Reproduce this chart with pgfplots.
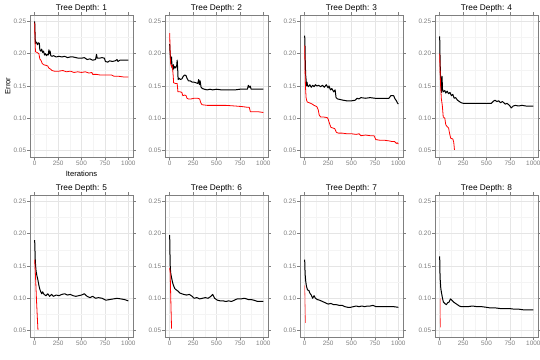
\documentclass[border=0pt]{standalone}
\usepackage{fontspec}
\setmainfont{Liberation Sans}
\usepackage{pgfplots}
\pgfplotsset{compat=1.18}
\definecolor{g50}{RGB}{127,127,127}
\definecolor{g90}{RGB}{229,229,229}
\definecolor{g97}{RGB}{244,244,244}
\pgfplotsset{every axis title shift=0pt}
\pgfplotsset{panel/.style={
  scale only axis, width=103bp, height=142bp,
  anchor=south west,
  xmin=-50, xmax=1050, ymin=0.04, ymax=0.26,
  xtick={0,250,500,750,1000}, ytick={0.05,0.10,0.15,0.20,0.25},
  minor xtick={125,375,625,875}, minor ytick={0.075,0.125,0.175,0.225},
  grid=both,
  major grid style={g90, line width=0.5bp},
  minor grid style={g97, line width=0.4bp},
  axis line style={g50, line width=0.5bp},
  tick style={g50, line width=0.5bp},
  tick align=outside, major tick length=2.7bp, minor tick length=0pt,
  ticklabel style={font=\fontsize{6.4bp}{7bp}\selectfont, text=g50},
  xticklabel style={inner sep=1bp},
  yticklabel style={inner sep=1bp, /pgf/number format/.cd, fixed, fixed zerofill, precision=2},
  /pgf/number format/1000 sep={},
  /pgf/number format/assume math mode=true,
  title style={at={(axis description cs:0.5,1.035)}, anchor=base, inner sep=0pt, font=\fontsize{8.3bp}{10bp}\selectfont},
  xlabel style={at={(axis description cs:0.5,-0.134)}, anchor=base, inner sep=0pt, font=\fontsize{7.6bp}{9bp}\selectfont},
  ylabel style={at={(axis description cs:-0.19,0.5)}, anchor=base, inner sep=0pt, font=\fontsize{7.6bp}{9bp}\selectfont},
  blk/.style={black, line width=1bp, line join=round},
  rd/.style={red, line width=0.8bp, line join=round},
}}
\begin{document}
\begin{tikzpicture}
\useasboundingbox (0,0) rectangle (540bp,360bp);
% ---------- Row 1 ----------
\begin{axis}[panel, at={(30bp,203bp)}, title={Tree Depth: 1}, xlabel={Iterations}, ylabel={Error}]
\addplot[blk] coordinates {(0,0.250)(3,0.235)(6,0.222)(10,0.216)(20,0.218)(30,0.214)(40,0.217)(50,0.216)(55,0.206)(65,0.204)(75,0.207)(85,0.202)(95,0.204)(105,0.198)(115,0.200)(125,0.197)(135,0.199)(145,0.198)(152,0.206)(158,0.200)(165,0.204)(172,0.197)(185,0.196)(200,0.197)(230,0.195)(260,0.196)(290,0.195)(320,0.196)(350,0.194)(380,0.195)(410,0.195)(440,0.194)(470,0.193)(500,0.193)(530,0.194)(560,0.191)(590,0.192)(620,0.190)(650,0.191)(660,0.199)(668,0.193)(690,0.193)(720,0.194)(745,0.193)(755,0.188)(780,0.187)(800,0.189)(830,0.188)(860,0.189)(880,0.191)(890,0.188)(910,0.190)(940,0.190)(970,0.190)(1000,0.190)};
\addplot[rd] coordinates {(0,0.248)(3,0.225)(6,0.210)(10,0.203)(25,0.202)(45,0.200)(55,0.192)(70,0.189)(80,0.185)(95,0.183)(120,0.182)(140,0.181)(150,0.178)(170,0.176)(185,0.174)(210,0.173)(260,0.173)(300,0.174)(340,0.172)(380,0.173)(420,0.171)(460,0.172)(500,0.171)(540,0.172)(580,0.170)(610,0.171)(620,0.168)(660,0.168)(700,0.167)(740,0.167)(780,0.167)(820,0.167)(850,0.165)(900,0.165)(950,0.164)(1000,0.164)};
\end{axis}
\begin{axis}[panel, at={(165bp,203bp)}, title={Tree Depth: 2}]
\addplot[blk] coordinates {(0,0.215)(5,0.200)(10,0.192)(15,0.185)(20,0.195)(25,0.178)(30,0.182)(35,0.175)(40,0.183)(45,0.177)(55,0.180)(65,0.178)(75,0.182)(80,0.190)(85,0.178)(90,0.160)(100,0.162)(115,0.160)(130,0.161)(145,0.165)(160,0.167)(175,0.166)(185,0.162)(200,0.158)(220,0.158)(240,0.156)(260,0.156)(280,0.155)(300,0.154)(310,0.160)(318,0.152)(325,0.158)(335,0.148)(350,0.146)(370,0.145)(400,0.144)(430,0.145)(460,0.144)(500,0.145)(550,0.144)(600,0.144)(650,0.144)(700,0.144)(750,0.145)(800,0.145)(830,0.145)(840,0.151)(850,0.148)(860,0.150)(870,0.145)(900,0.145)(950,0.145)(1000,0.145)};
\addplot[rd] coordinates {(0,0.232)(3,0.215)(6,0.195)(10,0.185)(15,0.182)(20,0.180)(25,0.182)(30,0.179)(38,0.165)(42,0.155)(60,0.154)(80,0.154)(88,0.141)(110,0.141)(130,0.140)(140,0.135)(160,0.136)(175,0.135)(185,0.131)(200,0.130)(230,0.130)(260,0.131)(300,0.131)(320,0.130)(332,0.124)(345,0.121)(400,0.120)(500,0.120)(600,0.120)(700,0.119)(780,0.118)(830,0.117)(850,0.117)(862,0.110)(900,0.110)(950,0.110)(1000,0.109)};
\end{axis}
\begin{axis}[panel, at={(300bp,203bp)}, title={Tree Depth: 3}]
\addplot[blk] coordinates {(0,0.228)(3,0.215)(6,0.190)(10,0.168)(15,0.160)(20,0.150)(25,0.156)(30,0.151)(40,0.149)(55,0.152)(70,0.148)(85,0.151)(100,0.149)(115,0.152)(130,0.150)(150,0.151)(170,0.149)(190,0.151)(210,0.148)(230,0.152)(250,0.147)(260,0.150)(275,0.144)(290,0.146)(310,0.141)(325,0.144)(335,0.132)(350,0.130)(380,0.129)(410,0.128)(450,0.127)(500,0.127)(540,0.128)(560,0.131)(580,0.130)(600,0.132)(650,0.131)(700,0.132)(750,0.131)(800,0.131)(850,0.131)(900,0.131)(920,0.135)(950,0.135)(965,0.130)(980,0.127)(990,0.124)(1000,0.122)};
\addplot[rd] coordinates {(0,0.213)(3,0.185)(6,0.160)(10,0.145)(15,0.132)(22,0.127)(30,0.125)(50,0.124)(80,0.122)(100,0.120)(130,0.118)(145,0.113)(155,0.105)(170,0.102)(200,0.102)(240,0.101)(250,0.099)(265,0.092)(280,0.086)(300,0.085)(320,0.084)(340,0.078)(360,0.077)(400,0.077)(450,0.076)(500,0.076)(550,0.075)(580,0.076)(600,0.073)(650,0.074)(700,0.073)(740,0.073)(760,0.067)(800,0.066)(850,0.066)(900,0.065)(930,0.064)(960,0.064)(980,0.061)(990,0.062)(1000,0.060)};
\end{axis}
\begin{axis}[panel, at={(435bp,203bp)}, title={Tree Depth: 4}]
\addplot[blk] coordinates {(0,0.227)(3,0.200)(6,0.180)(10,0.160)(15,0.150)(20,0.140)(25,0.165)(30,0.145)(40,0.141)(55,0.143)(65,0.139)(80,0.142)(95,0.138)(110,0.140)(125,0.135)(140,0.137)(155,0.131)(170,0.132)(190,0.128)(210,0.126)(230,0.124)(260,0.123)(300,0.123)(400,0.123)(500,0.123)(550,0.123)(570,0.126)(590,0.128)(610,0.126)(630,0.127)(650,0.124)(670,0.126)(700,0.122)(720,0.123)(745,0.120)(765,0.116)(785,0.119)(810,0.120)(840,0.119)(880,0.120)(920,0.119)(960,0.119)(1000,0.119)};
\addplot[rd] coordinates {(0,0.200)(5,0.170)(10,0.150)(18,0.130)(28,0.120)(38,0.102)(55,0.100)(65,0.090)(80,0.087)(95,0.085)(105,0.077)(118,0.069)(140,0.068)(150,0.063)(158,0.051)};
\end{axis}
% ---------- Row 2 ----------
\begin{axis}[panel, at={(30bp,23bp)}, title={Tree Depth: 5}]
\addplot[blk] coordinates {(0,0.190)(3,0.175)(6,0.160)(10,0.150)(15,0.142)(25,0.134)(35,0.128)(45,0.120)(55,0.114)(65,0.110)(75,0.107)(85,0.110)(100,0.106)(120,0.104)(140,0.107)(160,0.103)(180,0.106)(200,0.103)(230,0.105)(260,0.104)(290,0.106)(320,0.107)(350,0.105)(380,0.106)(410,0.104)(440,0.103)(470,0.104)(500,0.105)(530,0.107)(560,0.103)(590,0.101)(620,0.103)(650,0.100)(680,0.101)(720,0.100)(760,0.097)(800,0.098)(840,0.099)(880,0.100)(920,0.099)(960,0.098)(1000,0.096)};
\addplot[rd] coordinates {(0,0.160)(10,0.130)(20,0.095)(30,0.065)(35,0.051)};
\end{axis}
\begin{axis}[panel, at={(165bp,23bp)}, title={Tree Depth: 6}]
\addplot[blk] coordinates {(0,0.198)(3,0.170)(6,0.150)(10,0.140)(20,0.132)(30,0.125)(40,0.120)(55,0.115)(70,0.113)(90,0.111)(110,0.108)(130,0.107)(150,0.106)(180,0.105)(210,0.106)(240,0.103)(260,0.100)(290,0.101)(320,0.099)(350,0.100)(380,0.101)(410,0.100)(440,0.103)(460,0.106)(480,0.100)(510,0.097)(540,0.096)(570,0.096)(600,0.095)(630,0.096)(660,0.095)(690,0.097)(720,0.099)(760,0.099)(800,0.100)(840,0.098)(870,0.098)(900,0.097)(940,0.095)(970,0.095)(1000,0.095)};
\addplot[rd] coordinates {(0,0.147)(5,0.140)(10,0.110)(15,0.080)(20,0.053)};
\end{axis}
\begin{axis}[panel, at={(300bp,23bp)}, title={Tree Depth: 7}]
\addplot[blk] coordinates {(0,0.160)(3,0.145)(6,0.135)(12,0.125)(20,0.118)(30,0.113)(45,0.112)(55,0.108)(70,0.105)(85,0.100)(100,0.104)(115,0.100)(135,0.098)(160,0.097)(190,0.095)(220,0.093)(250,0.091)(280,0.092)(310,0.090)(340,0.090)(370,0.089)(400,0.089)(430,0.087)(460,0.086)(490,0.086)(520,0.087)(550,0.088)(580,0.087)(610,0.088)(640,0.087)(670,0.088)(700,0.088)(730,0.089)(760,0.087)(800,0.087)(850,0.087)(900,0.087)(950,0.087)(1000,0.086)};
\addplot[rd, red!60] coordinates {(0,0.120)(3,0.100)(6,0.080)(9,0.062)};
\end{axis}
\begin{axis}[panel, at={(435bp,23bp)}, title={Tree Depth: 8}]
\addplot[blk] coordinates {(0,0.165)(3,0.140)(6,0.128)(12,0.115)(20,0.108)(30,0.100)(40,0.094)(55,0.092)(70,0.090)(85,0.093)(100,0.094)(115,0.099)(130,0.097)(150,0.094)(170,0.092)(190,0.090)(210,0.088)(230,0.087)(260,0.087)(300,0.087)(350,0.088)(400,0.087)(450,0.087)(500,0.086)(540,0.085)(600,0.085)(650,0.084)(700,0.084)(750,0.084)(800,0.083)(850,0.083)(900,0.082)(950,0.082)(1000,0.082)};
\addplot[rd, red!60] coordinates {(5,0.100)(6,0.085)(7,0.070)(8,0.055)};
\end{axis}
\end{tikzpicture}
\end{document}
